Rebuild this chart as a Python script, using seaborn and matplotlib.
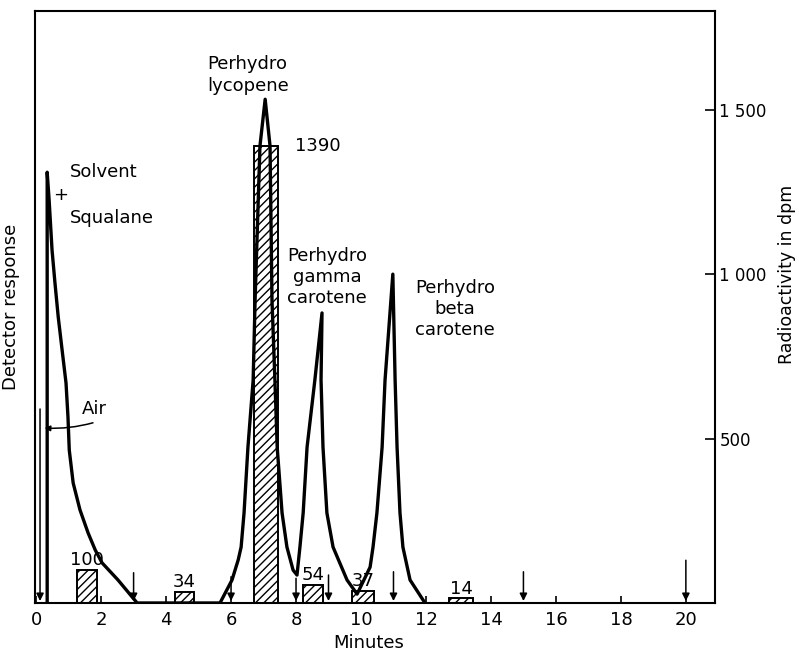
import matplotlib
matplotlib.use("Agg")
import matplotlib.pyplot as plt
import seaborn as sns
import pandas as pd

# Detector trace (minutes, arbitrary detector units on the same 0-1800 scale)
trace_minutes = [0.34, 0.34, 0.40, 0.49, 0.58, 0.68, 0.80, 0.92, 0.98, 1.02, 1.14, 1.35, 1.60,
                 1.82, 2.03, 2.52, 3.11,
                 5.66, 6.03, 6.22, 6.31, 6.40, 6.52, 6.68, 6.74, 6.89, 7.05, 7.20, 7.26, 7.35,
                 7.42, 7.57, 7.72, 7.91, 8.03,
                 8.12, 8.22, 8.34, 8.58, 8.80, 8.77, 8.83, 8.95, 9.14, 9.57, 9.88,
                 10.28, 10.37, 10.49, 10.65, 10.74, 10.98, 11.05, 11.11, 11.20, 11.29, 11.51, 11.97]
trace_response = [0, 1310, 1225, 1073, 973, 870, 769, 669, 566, 465, 365, 283, 213,
                  161, 122, 70, 0,
                  0, 70, 131, 170, 274, 474, 678, 921, 1390, 1532, 1390, 921, 678,
                  474, 274, 170, 100, 85,
                  170, 274, 474, 678, 882, 678, 474, 274, 170, 70, 27,
                  109, 170, 274, 474, 678, 1000, 678, 474, 274, 170, 70, 0]

# Radioactivity of the collected fractions
fraction_centers = [1.56, 4.57, 7.08, 8.52, 10.06, 13.08]
fraction_widths = [0.62, 0.58, 0.74, 0.62, 0.68, 0.74]
fraction_dpm = [100, 34, 1390, 54, 37, 14]

# Fraction cut marks (minutes) and arrow tails (dpm scale)
cut_minutes = [0.12, 3.0, 6.0, 8.0, 9.0, 11.0, 15.0, 20.0]
cut_tails = [590, 92, 80, 75, 85, 95, 95, 130]

x_ticks = list(range(0, 21, 2))
radio_ticks = [500, 1000, 1500]
radio_tick_labels = ["500", "1 000", "1 500"]

sns.set_style("ticks")
plt.rcParams["font.family"] = ["DejaVu Sans"]
plt.rcParams.update({"text.color": "black", "axes.labelcolor": "black",
                     "xtick.color": "black", "ytick.color": "black",
                     "axes.edgecolor": "black", "hatch.linewidth": 1.0})
FS = 13
TFS = 12

fig = plt.figure(figsize=(7.99, 6.54), dpi=100)
ax = fig.add_axes([0.044, 0.078, 0.851, 0.905])
ax_det = ax.twinx()

# hatched fraction bars (radioactivity)
ax.bar(fraction_centers, fraction_dpm, width=fraction_widths, color="white",
       edgecolor="black", linewidth=1.4, hatch="////", zorder=2)
for xc, v in zip(fraction_centers, fraction_dpm):
    if v == 1390:
        ax.text(xc + 0.9, v, f"{v}", ha="left", va="center", fontsize=FS)
    else:
        ax.text(xc, v + 30, f"{v}", ha="center", va="center", fontsize=FS)

# detector trace
df = pd.DataFrame({"minutes": trace_minutes, "response": trace_response})
sns.lineplot(data=df, x="minutes", y="response", sort=False, estimator=None,
             color="black", linewidth=2.4, ax=ax_det, solid_joinstyle="round")

# fraction cut arrows
for m, tail in zip(cut_minutes, cut_tails):
    ax_det.annotate("", xy=(m, 6), xytext=(m, tail),
                    arrowprops=dict(arrowstyle="-|>", color="black", lw=1.1,
                                    mutation_scale=11, shrinkA=0, shrinkB=0))

# peak labels
ax_det.text(1.05, 1310, "Solvent", fontsize=FS, ha="left", va="center")
ax_det.text(0.74, 1240, "+", fontsize=FS, ha="center", va="center")
ax_det.text(1.05, 1170, "Squalane", fontsize=FS, ha="left", va="center")
ax_det.text(1.42, 590, "Air", fontsize=FS, ha="left", va="center")
ax_det.annotate("", xy=(0.26, 532), xytext=(1.75, 548),
                arrowprops=dict(arrowstyle="-|>", color="black", lw=1.1,
                                mutation_scale=8, shrinkA=0, shrinkB=0,
                                connectionstyle="arc3,rad=-0.08"))
ax_det.text(5.26, 1605, "Perhydro\nlycopene", fontsize=FS, ha="left", va="center",
            linespacing=1.3)
ax_det.text(8.95, 991, "Perhydro\ngamma\ncarotene", fontsize=FS, ha="center",
            va="center", linespacing=1.2)
ax_det.text(12.9, 894, "Perhydro\nbeta\ncarotene", fontsize=FS, ha="center",
            va="center", linespacing=1.2)

# axes, ticks, labels
for a in (ax, ax_det):
    a.set_xlim(-0.03, 20.9)
    a.set_ylim(0, 1800)
for s in ax.spines.values():
    s.set_linewidth(1.5)
    s.set_visible(True)

ax.set_xticks(x_ticks)
ax.set_xticklabels([str(t) for t in x_ticks], fontsize=TFS + 1)
ax.tick_params(axis="x", direction="in", length=5, width=1.2, pad=6)
ax.yaxis.tick_right()
ax.yaxis.set_label_position("right")
ax.set_yticks(radio_ticks)
ax.set_yticklabels(radio_tick_labels, fontsize=TFS)
ax.tick_params(axis="y", direction="in", length=7, width=1.2, pad=3,
               left=False, right=True)
ax.set_ylabel("Radioactivity in dpm", fontsize=FS - 0.5)
ax.yaxis.set_label_coords(1.092, 0.555)
ax.set_xlabel("Minutes", fontsize=FS)
ax.xaxis.set_label_coords(0.49, -0.052)

ax_det.set_yticks([])
ax_det.set_xlabel("")
ax_det.yaxis.set_label_position("left")
ax_det.set_ylabel("Detector response", fontsize=FS)
ax_det.yaxis.set_label_coords(-0.022, 0.5)
for s in ax_det.spines.values():
    s.set_visible(False)

fig.savefig("out.png", dpi=100)
